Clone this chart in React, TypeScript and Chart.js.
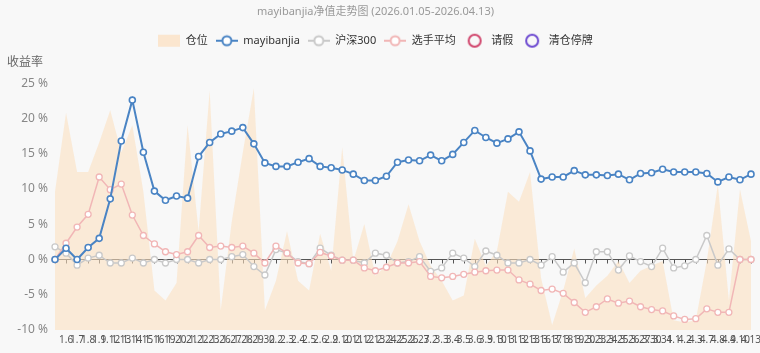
import React, { useEffect, useRef } from "react";
import { Chart, registerables } from "chart.js";

Chart.register(...registerables);

const titleText = "mayibanjia净值走势图 (2026.01.05-2026.04.13)";
const yAxisName = "收益率";

const dates = ["1.5","1.6","1.7","1.8","1.9","1.12","1.13","1.14","1.15","1.16","1.19","1.20","1.21","1.22","1.23","1.26","1.27","1.28","1.29","1.30","2.2","2.3","2.4","2.5","2.6","2.9","2.10","2.11","2.12","2.13","2.24","2.25","2.26","2.27","3.2","3.3","3.4","3.5","3.6","3.9","3.10","3.11","3.12","3.13","3.16","3.17","3.18","3.19","3.20","3.23","3.24","3.25","3.26","3.27","3.30","3.31","4.1","4.2","4.3","4.7","4.8","4.9","4.10","4.13"];

// 仓位 (position, %)
const position = [56,88,64,64,76,89,72,83,56,16,12,19,83,40,97,8,44,72,98,8,20,40,20,16,39,24,74,28,43,22,26,36,51,36,26,20,12,14,37,26,32,56,52,64,21,2,16,33,13,18,22,28,19,24,26,28,4,3,4,28,59,12,57,36];

// mayibanjia return (%)
const mayibanjia = [0,1.6,0,1.7,3.0,8.6,16.8,22.6,15.2,9.7,8.4,9.0,8.7,14.6,16.6,17.8,18.2,18.7,16.4,13.7,13.2,13.2,13.8,14.3,13.2,13.0,12.7,12.1,11.2,11.2,11.8,13.8,14.1,14.0,14.8,14.0,14.9,16.6,18.3,17.3,16.5,17.1,18.1,15.4,11.4,11.7,11.7,12.6,12.0,12.0,11.9,12.1,11.3,12.2,12.3,12.8,12.4,12.4,12.4,12.2,11.0,11.7,11.3,12.1];

// 沪深300 (%)
const hs300 = [1.8,0.9,-0.8,0.2,0.6,-0.5,-0.5,0.2,-0.5,0,-0.5,0,0,-0.5,0,0,0.4,0.7,-1.0,-2.2,1.4,0.9,-0.3,-0.6,1.6,0.6,-0.1,-0.1,-0.5,0.9,0.6,-0.5,-0.3,0.4,-1.7,-1.2,0.9,0.2,-1.0,1.2,0.6,-0.5,-0.5,0,-0.8,0.4,-1.8,-0.5,-3.3,1.1,1.1,-1.5,0.5,-0.3,-1.0,1.6,-1.2,-0.9,0,3.4,-0.8,1.5,0,0];

// 选手平均 (%)
const playerAvg = [0,2.3,4.6,6.4,11.7,9.9,10.7,6.3,3.4,2.2,1.1,0.7,1.1,3.4,1.7,1.9,1.7,1.9,0.9,-0.5,1.9,0.9,-0.5,-0.6,1.0,0.5,-0.1,-0.1,-1.2,-1.6,-1.1,-0.5,-0.5,-0.3,-2.4,-2.6,-2.4,-2.1,-1.8,-1.6,-1.5,-1.5,-2.9,-3.5,-4.4,-4.2,-4.8,-6.1,-7.5,-6.7,-5.6,-6.2,-5.9,-6.7,-7.1,-7.3,-8.0,-8.5,-8.4,-7.0,-7.5,-7.5,0,0];

// 请假 / 清仓停牌 (no marks in this period)
const leaveDays: (number | null)[] = [];
const clearDays: (number | null)[] = [];

const yTicks = { min: -10, max: 25, step: 5 };

const COLORS = {
  area: "rgba(252, 224, 192, 0.58)",
  areaIcon: "#fbe6cf",
  blue: "#4a84c4",
  gray: "#c9c9c9",
  pink: "#f1b6b6",
  leave: "#d0456c",
  clear: "#6d4ad0",
  bg: "#f8f8f8",
};

function makeIcon(kind: string, color: string): HTMLCanvasElement {
  const c = document.createElement("canvas");
  c.width = 22;
  c.height = 16;
  const g = c.getContext("2d")!;
  if (kind === "rect") {
    g.fillStyle = color;
    g.fillRect(0, 2, 22, 12);
  } else if (kind === "line") {
    g.strokeStyle = color;
    g.lineWidth = 2;
    g.beginPath();
    g.moveTo(0, 8);
    g.lineTo(22, 8);
    g.stroke();
    g.beginPath();
    g.arc(11, 8, 4.5, 0, Math.PI * 2);
    g.fillStyle = "#ffffff";
    g.fill();
    g.stroke();
  } else {
    g.strokeStyle = color;
    g.lineWidth = 2;
    g.beginPath();
    g.arc(11, 8, 6, 0, Math.PI * 2);
    g.stroke();
  }
  return c;
}

const zeroAxisPlugin = {
  id: "zeroAxis",
  beforeDatasetsDraw(chart: any) {
    const { ctx, chartArea, scales } = chart;
    const y0 = Math.round(scales.y.getPixelForValue(0)) + 0.5;
    ctx.save();
    ctx.strokeStyle = "#555";
    ctx.lineWidth = 1;
    ctx.beginPath();
    ctx.moveTo(chartArea.left, y0);
    ctx.lineTo(chartArea.right, y0);
    for (let i = 0; i < dates.length; i++) {
      const x = Math.round(scales.x.getPixelForValue(i)) + 0.5;
      ctx.moveTo(x, y0);
      ctx.lineTo(x, y0 + 4);
    }
    ctx.stroke();
    ctx.restore();
  },
};

const axisNamePlugin = {
  id: "axisName",
  afterDraw(chart: any) {
    const { ctx } = chart;
    ctx.save();
    ctx.fillStyle = "#666";
    ctx.font = '12px "Noto Sans CJK SC", "Noto Sans", sans-serif';
    ctx.textAlign = "left";
    ctx.textBaseline = "middle";
    ctx.fillText(yAxisName, 7, 61);
    ctx.restore();
  },
};

const legendGapPlugin = {
  id: "legendGap",
  afterInit(chart: any) {
    const lg = chart.legend;
    if (!lg) return;
    const fit = lg.fit.bind(lg);
    lg.fit = () => {
      fit();
      lg.height += 27;
    };
  },
};

const bgPlugin = {
  id: "bg",
  beforeDraw(chart: any) {
    const { ctx, width, height } = chart;
    ctx.save();
    ctx.fillStyle = COLORS.bg;
    ctx.fillRect(0, 0, width, height);
    ctx.restore();
  },
};

export default function App() {
  const ref = useRef<HTMLCanvasElement>(null);

  useEffect(() => {
    document.body.style.margin = "0";
    Chart.defaults.font.family = '"Noto Sans", "Noto Sans CJK SC", sans-serif';
    const icons = [
      makeIcon("rect", COLORS.areaIcon),
      makeIcon("line", COLORS.blue),
      makeIcon("line", COLORS.gray),
      makeIcon("line", COLORS.pink),
      makeIcon("circle", COLORS.leave),
      makeIcon("circle", COLORS.clear),
    ];
    const chart = new Chart(ref.current!, {
      type: "line",
      data: {
        labels: dates,
        datasets: [
          {
            label: "仓位",
            data: position,
            yAxisID: "y1",
            fill: "start",
            backgroundColor: COLORS.area,
            borderWidth: 0,
            pointRadius: 0,
            order: 4,
          },
          {
            label: "mayibanjia",
            data: mayibanjia,
            yAxisID: "y",
            borderColor: COLORS.blue,
            borderWidth: 2,
            pointRadius: 3,
            pointBorderWidth: 1.6,
            pointBackgroundColor: "#fff",
            pointBorderColor: COLORS.blue,
            order: 0,
          },
          {
            label: "沪深300",
            data: hs300,
            yAxisID: "y",
            borderColor: COLORS.gray,
            borderWidth: 1.5,
            pointRadius: 3,
            pointBorderWidth: 1.3,
            pointBackgroundColor: "#fff",
            pointBorderColor: COLORS.gray,
            order: 2,
          },
          {
            label: "选手平均",
            data: playerAvg,
            yAxisID: "y",
            borderColor: COLORS.pink,
            borderWidth: 1.5,
            pointRadius: 3,
            pointBorderWidth: 1.3,
            pointBackgroundColor: "#fff",
            pointBorderColor: COLORS.pink,
            order: 1,
          },
          {
            label: "请假",
            data: leaveDays,
            yAxisID: "y",
            borderColor: COLORS.leave,
            showLine: false,
            order: 5,
          },
          {
            label: "清仓停牌",
            data: clearDays,
            yAxisID: "y",
            borderColor: COLORS.clear,
            showLine: false,
            order: 6,
          },
        ],
      },
      options: {
        responsive: false,
        animation: false,
        devicePixelRatio: 1,
        layout: { padding: { left: 0, right: 9, top: 0, bottom: 0 } },
        plugins: {
          title: {
            display: true,
            text: titleText,
            color: "#999",
            font: { size: 11, weight: "normal" },
            padding: { top: 5, bottom: 9 },
          },
          legend: {
            display: true,
            labels: {
              usePointStyle: true,
              pointStyleWidth: 22,
              boxHeight: 14,
              padding: 8,
              color: "#333",
              font: { size: 11 },
              generateLabels: (ch: any) =>
                ch.data.datasets.map((ds: any, i: number) => ({
                  text: ds.label,
                  pointStyle: icons[i],
                  datasetIndex: i,
                  hidden: false,
                  fillStyle: "transparent",
                  strokeStyle: "transparent",
                  lineWidth: 0,
                  fontColor: "#333",
                })),
            },
          },
          tooltip: { enabled: false },
        },
        scales: {
          x: {
            offset: false,
            grid: { display: false, drawTicks: false },
            border: { display: false },
            afterFit: (s: any) => {
              s.height = 23;
              s.paddingLeft = 0;
              s.paddingRight = 0;
            },
            ticks: {
              autoSkip: false,
              maxRotation: 0,
              minRotation: 0,
              padding: 4,
              color: "#555",
              font: { size: 10 },
              callback: (_v: any, i: number) => (i === 0 ? "" : dates[i]),
            },
          },
          y: {
            min: yTicks.min,
            max: yTicks.max,
            grid: { display: false, drawTicks: false },
            border: { display: false },
            afterFit: (s: any) => {
              s.width = 55;
            },
            ticks: {
              stepSize: yTicks.step,
              padding: 7,
              color: "#888",
              font: { size: 12 },
              callback: (v: any) => `${v} %`,
            },
          },
          y1: {
            display: false,
            min: 0,
            max: 100,
          },
        },
      },
      plugins: [bgPlugin, legendGapPlugin, zeroAxisPlugin, axisNamePlugin],
    });
    return () => chart.destroy();
  }, []);

  return (
    <div style={{ width: 760, height: 353 }}>
      <canvas ref={ref} width={760} height={353} />
    </div>
  );
}
